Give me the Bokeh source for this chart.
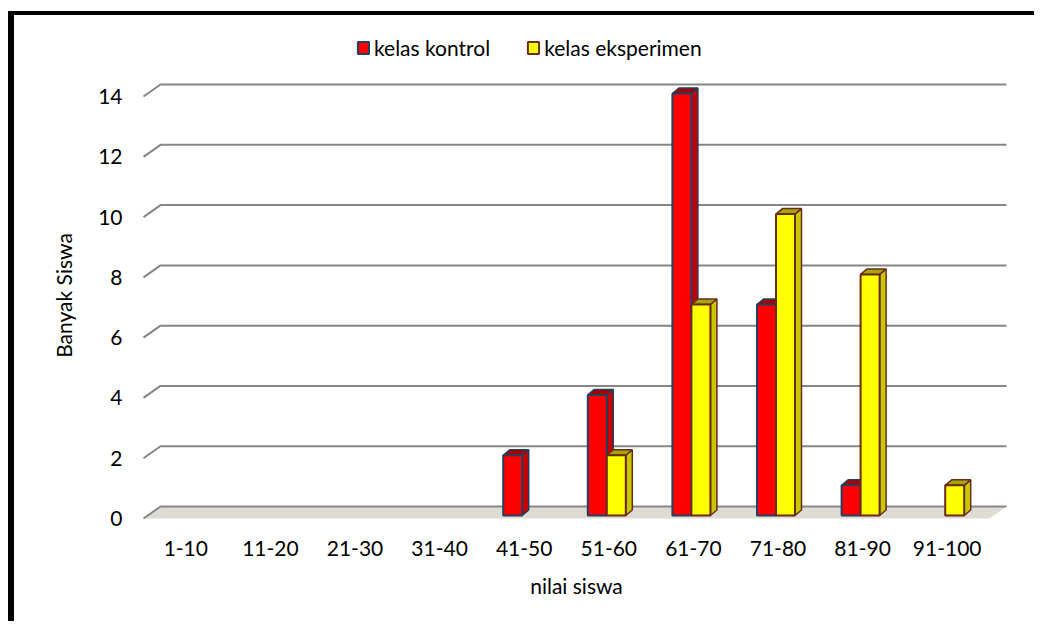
from bokeh.plotting import figure
from bokeh.models import Range1d, FixedTicker, Legend, LegendItem, ColumnDataSource
from bokeh.embed import file_html
from bokeh.resources import INLINE

# ---------------- data ----------------
categories = ["1-10", "11-20", "21-30", "31-40", "41-50",
              "51-60", "61-70", "71-80", "81-90", "91-100"]
kelas_kontrol = [0, 0, 0, 0, 2, 4, 14, 7, 1, 0]
kelas_eksperimen = [0, 0, 0, 0, 0, 2, 7, 10, 8, 1]
y_ticks = [0, 2, 4, 6, 8, 10, 12, 14]
series_names = ["kelas kontrol", "kelas eksperimen"]

# ---------------- geometry (pixel-based pseudo 3D) ----------------
PX_X = 84.6      # px per category
PX_Y = 30.14     # px per unit
WALL_DX = 17 / PX_X
WALL_DY = 12 / PX_Y
BAR_W = 19 / PX_X
BAR_DX = 6.5 / PX_X
BAR_DY = 5.5 / PX_Y
BAR_BASE = 3 / PX_Y
N = len(categories)

FONT = "Lato"
FS = "21px"

p = figure(width=1026, height=610, output_backend="svg", toolbar_location=None,
           x_range=Range1d(-3 / PX_X, 869 / PX_X),
           y_range=Range1d(-4 / PX_Y, 493 / PX_Y),
           min_border_left=126, min_border_right=28,
           min_border_top=10, min_border_bottom=103)
p.margin = (11, 0, 0, 8)
p.styles = {"border-left": "6px solid black", "border-top": "4px solid black"}
p.outline_line_color = None
p.xgrid.visible = False
p.ygrid.visible = False
p.background_fill_color = "white"
p.border_fill_color = "white"

# floor
p.patch([0, N, N + WALL_DX, WALL_DX], [0, 0, WALL_DY, WALL_DY],
        fill_color="#dedbd3", line_color=None)

# gridlines on back wall with diagonal at left
gx = [[0, WALL_DX, N + WALL_DX] for _ in y_ticks]
gy = [[v, v + WALL_DY, v + WALL_DY] for v in y_ticks]
p.multi_line(gx, gy, line_color="#868686", line_width=2)


def bar_geometry(values, left_off):
    front = dict(l=[], r=[], b=[], t=[])
    side_xs, side_ys, top_xs, top_ys = [], [], [], []
    for i, v in enumerate(values):
        if v <= 0:
            continue
        c = i + 0.5
        l = c + left_off
        r = l + BAR_W
        b = BAR_BASE
        t = v + BAR_BASE
        front["l"].append(l); front["r"].append(r)
        front["b"].append(b); front["t"].append(t)
        side_xs.append([r, r + BAR_DX, r + BAR_DX, r])
        side_ys.append([b, b + BAR_DY, t + BAR_DY, t])
        top_xs.append([l, r, r + BAR_DX, l + BAR_DX])
        top_ys.append([t, t, t + BAR_DY, t + BAR_DY])
    return front, side_xs, side_ys, top_xs, top_ys


styles = [
    dict(values=kelas_kontrol, off=-21 / PX_X, front="#ff0000", side="#c40000",
         top="#a30000", line="#243f60"),
    dict(values=kelas_eksperimen, off=-21 / PX_X + BAR_W, front="#ffff00",
         side="#c8c800", top="#a6a600", line="#6b2a1a"),
]

front_renderers = []
for st in styles:
    front, sx, sy, tx, ty = bar_geometry(st["values"], st["off"])
    p.patches(sx, sy, fill_color=st["side"], line_color=st["line"], line_width=1.5)
    p.patches(tx, ty, fill_color=st["top"], line_color=st["line"], line_width=1.5)
    src = ColumnDataSource(dict(left=front["l"], right=front["r"],
                                bottom=front["b"], top=front["t"]))
    r = p.quad(left="left", right="right", bottom="bottom", top="top", source=src,
               fill_color=st["front"], line_color=st["line"], line_width=2)
    front_renderers.append(r)

# axes
p.xaxis.ticker = FixedTicker(ticks=[i + 0.5 for i in range(N)])
p.xaxis.major_label_overrides = {i + 0.5: c for i, c in enumerate(categories)}
p.yaxis.ticker = FixedTicker(ticks=y_ticks)
for ax in (p.xaxis, p.yaxis):
    ax.axis_line_color = None
    ax.major_tick_line_color = None
    ax.minor_tick_line_color = None
    ax.major_tick_out = 0
    ax.major_tick_in = 0
    ax.minor_tick_out = 0
    ax.minor_tick_in = 0
    ax.major_label_text_font = FONT
    ax.major_label_text_font_size = FS
    ax.major_label_text_color = "black"
    ax.axis_label_text_font = FONT
    ax.axis_label_text_font_size = FS
    ax.axis_label_text_font_style = "normal"
    ax.axis_label_text_color = "black"

p.xaxis.axis_label = "nilai siswa"
p.xaxis.major_label_standoff = 18
p.xaxis.axis_label_standoff = 14
# non-breaking spaces keep the label centred on the plotted area, as in the original
p.yaxis.axis_label = "Banyak Siswa" + "\u00a0" * 8
p.yaxis.major_label_standoff = 18
p.yaxis.axis_label_standoff = 19

legend = Legend(items=[LegendItem(label=series_names[0], renderers=[front_renderers[0]]),
                       LegendItem(label=series_names[1], renderers=[front_renderers[1]])],
                orientation="horizontal", location=(216, 462),
                border_line_color=None, background_fill_alpha=0,
                padding=0, margin=0, spacing=36, label_standoff=4,
                glyph_width=14, glyph_height=15,
                label_text_font=FONT, label_text_font_size=FS,
                label_text_color="black")
p.add_layout(legend)

open("out.html", "w").write(file_html(p, INLINE))
